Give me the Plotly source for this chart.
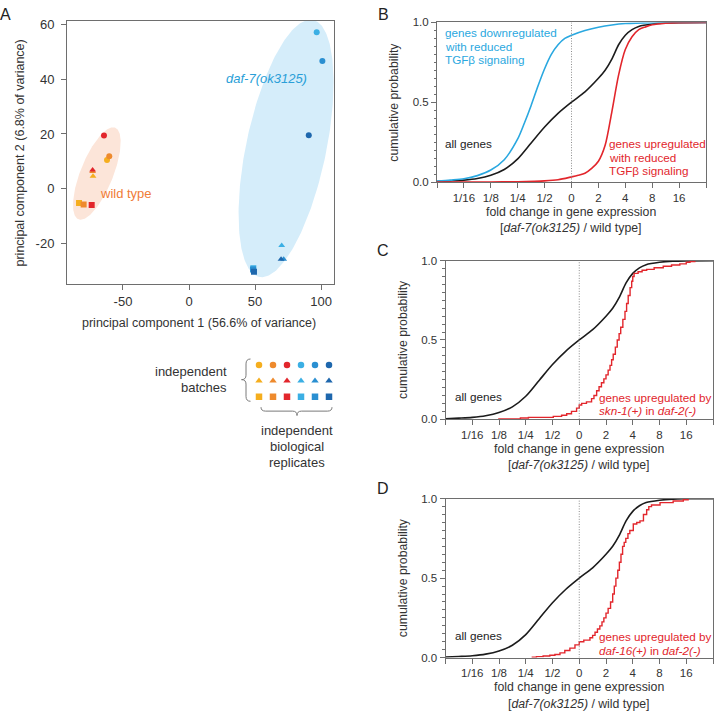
import numpy as np
import plotly.graph_objects as go

W, H = 715, 718
FONT = "Liberation Sans, Arial, Helvetica, sans-serif"
AX = "#6e6e6e"
TXT = "#333333"
BLUE = "#2aa8e0"
RED = "#e2262c"
BLACK = "#1c1c1c"
ORANGE_TXT = "#f07c38"
DAF_TXT = "#2a9fd8"

# ---------------- Panel A data (PCA) ----------------
rep_colors = ["#f5ae1e", "#ee8a2d", "#e2262c", "#3bafe4", "#2a8fd1", "#1e67ad"]
batch_symbols = ["circle", "triangle-up", "square"]

wt_pc1 = [-62.1, -60.4, -64.4, -72.7, -73.0, -73.0, -83.3, -79.8, -73.7]
wt_pc2 = [10.5, 11.8, 19.4, 4.5, 6.2, 6.8, -5.3, -5.9, -6.0]
wt_rep = [0, 1, 2, 0, 1, 2, 0, 1, 2]
wt_batch = [0, 0, 0, 1, 1, 1, 2, 2, 2]

mut_pc1 = [96.7, 101.0, 90.7, 70.2, 71.7, 69.7, 48.7, 48.5, 49.2]
mut_pc2 = [57.3, 46.7, 19.5, -20.9, -25.9, -25.9, -29.2, -29.7, -30.5]
mut_rep = [3, 4, 5, 3, 4, 5, 3, 4, 5]
mut_batch = [0, 0, 0, 1, 1, 1, 2, 2, 2]

# ellipse: center, major half-axis vector, minor half-axis vector (data units)
wt_ell_center = [-69.8, 5.5]
wt_ell_major = [13.9, 16.8]
wt_ell_minor = [11.5, -2.2]
mut_ell_center = [73.5, 14.7]
mut_ell_major = [20.3, 47.1]
mut_ell_minor = [29.7, -2.9]

pc1_ticks = [-50, 0, 50, 100]
pc2_ticks = [-20, 0, 20, 40, 60]

# ---------------- Panels B-D data (cumulative distributions) ----------------
fc_tickvals = [-5, -4, -3, -2, -1, 0, 1, 2, 3, 4, 5]
fc_ticktext = ["", "1/16", "1/8", "1/4", "1/2", "0", "2", "4", "8", "16", ""]

all_x = [-5, -4.5, -4, -3.5, -3, -2.5, -2, -1.5, -1, -0.5, 0, 0.5, 1, 1.25, 1.5, 1.75, 2, 2.25, 2.5, 3, 3.5, 4, 5]
all_y = [0.003, 0.007, 0.012, 0.022, 0.042, 0.078, 0.145, 0.245, 0.345, 0.43, 0.50, 0.565, 0.65, 0.70, 0.77, 0.86, 0.92, 0.955, 0.975, 0.99, 0.997, 0.999, 1.0]

down_x = [-5, -4.5, -4, -3.5, -3, -2.5, -2, -1.75, -1.5, -1.25, -1, -0.75, -0.5, -0.25, 0, 0.5, 1, 1.5, 2, 3, 4, 5]
down_y = [0.006, 0.012, 0.02, 0.04, 0.075, 0.14, 0.27, 0.37, 0.48, 0.60, 0.71, 0.80, 0.86, 0.90, 0.92, 0.95, 0.97, 0.984, 0.993, 0.999, 1.0, 1.0]

up_x = [-5, -3, -2, -1, -0.5, 0, 0.25, 0.5, 0.75, 1.0, 1.25, 1.5, 1.75, 2.0, 2.25, 2.5, 2.75, 3.0, 3.5, 4, 5]
up_y = [0.0, 0.0, 0.002, 0.007, 0.014, 0.032, 0.042, 0.055, 0.085, 0.13, 0.23, 0.44, 0.67, 0.83, 0.91, 0.955, 0.972, 0.985, 0.995, 0.999, 1.0]

skn_x = [-3.03, -2.2, -1.9, -0.97, -0.66, -0.47, -0.29, -0.1, 0.0, 0.09, 0.27, 0.46, 0.55, 0.65, 0.74, 0.83, 0.92,
         1.0, 1.08, 1.15, 1.21, 1.27, 1.35, 1.42, 1.49, 1.55, 1.63, 1.71, 1.77, 1.83, 1.9, 1.96, 2.0, 2.05, 2.2,
         2.35, 2.52, 2.8, 3.14, 3.45, 3.76, 4.0, 4.14, 4.32]
skn_y = [0.002, 0.008, 0.012, 0.018, 0.025, 0.035, 0.05, 0.07, 0.09, 0.10, 0.11, 0.13, 0.15, 0.18, 0.205, 0.23, 0.255,
         0.28, 0.31, 0.34, 0.375, 0.41, 0.455, 0.50, 0.54, 0.58, 0.63, 0.68, 0.73, 0.78, 0.83, 0.87, 0.90, 0.92, 0.93,
         0.94, 0.945, 0.955, 0.965, 0.973, 0.98, 0.99, 0.995, 1.0]

d16_x = [-1.78, -1.6, -1.35, -1.1, -0.91, -0.72, -0.54, -0.35, -0.16, 0.0, 0.17, 0.4, 0.5, 0.59, 0.68, 0.77, 0.85,
         0.92, 1.0, 1.08, 1.17, 1.25, 1.31, 1.37, 1.44, 1.5, 1.56, 1.62, 1.68, 1.74, 1.82, 1.89, 2.02, 2.15, 2.27,
         2.4, 2.52, 2.6, 2.7, 3.02, 3.51, 3.89, 4.07]
d16_y = [0.002, 0.006, 0.01, 0.015, 0.02, 0.03, 0.045, 0.06, 0.08, 0.10, 0.11, 0.125, 0.14, 0.16, 0.18, 0.20, 0.225,
         0.25, 0.28, 0.31, 0.35, 0.40, 0.45, 0.50, 0.55, 0.60, 0.65, 0.70, 0.725, 0.75, 0.78, 0.80, 0.84, 0.85, 0.86,
         0.90, 0.93, 0.95, 0.96, 0.975, 0.985, 0.993, 1.0]

prob_tickvals = [0, 0.25, 0.5, 0.75, 1.0]
prob_ticktext = ["0.0", "", "0.5", "", "1.0"]
prob_minor = [i * 0.05 for i in range(21)]

# ---------------- layout geometry (pixels) ----------------
def dx(a, b):
    return [a / W, b / W]

def dy(top, bottom):
    return [1 - bottom / H, 1 - top / H]

fig = go.Figure()

# ellipses
t = np.linspace(0, 2 * np.pi, 241)
for c, M, m, col in [(wt_ell_center, wt_ell_major, wt_ell_minor, "#fce5d9"),
                     (mut_ell_center, mut_ell_major, mut_ell_minor, "#d5edfa")]:
    ex = c[0] + np.cos(t) * M[0] + np.sin(t) * m[0]
    ey = c[1] + np.cos(t) * M[1] + np.sin(t) * m[1]
    fig.add_trace(go.Scatter(x=ex, y=ey, mode="lines", fill="toself", fillcolor=col,
                             line=dict(width=0), hoverinfo="skip", xaxis="x", yaxis="y"))

for px_, py_, rp, bt in [(wt_pc1, wt_pc2, wt_rep, wt_batch), (mut_pc1, mut_pc2, mut_rep, mut_batch)]:
    fig.add_trace(go.Scatter(
        x=px_, y=py_, mode="markers", xaxis="x", yaxis="y",
        marker=dict(color=[rep_colors[r] for r in rp], symbol=[batch_symbols[b] for b in bt],
                    size=6, line=dict(width=0))))

# legend grid (pixel overlay axis)
leg_x0, leg_dx, leg_y0, leg_dy = 259, 14, 365, 16.2
gx, gy, gc, gs = [], [], [], []
for b in range(3):
    for r in range(6):
        gx.append(leg_x0 + leg_dx * r)
        gy.append(leg_y0 + leg_dy * b)
        gc.append(rep_colors[r])
        gs.append(batch_symbols[b])
fig.add_trace(go.Scatter(x=gx, y=gy, mode="markers", xaxis="x5", yaxis="y5",
                         marker=dict(color=gc, symbol=gs, size=6.5, line=dict(width=0))))

# CDF panels
panels = [("x2", "y2"), ("x3", "y3"), ("x4", "y4")]
for xa, ya in panels:
    fig.add_shape(type="line", x0=0, x1=0, y0=0, y1=1, xref=xa, yref=ya,
                  line=dict(color="#8c8c8c", width=1, dash="1px,1.6px"))
    fig.add_trace(go.Scatter(x=all_x, y=all_y, mode="lines", xaxis=xa, yaxis=ya,
                             line=dict(color=BLACK, width=1.6, shape="spline", smoothing=0.8)))

fig.add_trace(go.Scatter(x=down_x, y=down_y, mode="lines", xaxis="x2", yaxis="y2",
                         line=dict(color=BLUE, width=1.6, shape="spline", smoothing=0.8)))
fig.add_trace(go.Scatter(x=up_x, y=up_y, mode="lines", xaxis="x2", yaxis="y2",
                         line=dict(color=RED, width=1.6, shape="spline", smoothing=0.8)))
fig.add_trace(go.Scatter(x=skn_x, y=skn_y, mode="lines", xaxis="x3", yaxis="y3",
                         line=dict(color=RED, width=1.4, shape="hv")))
fig.add_trace(go.Scatter(x=d16_x, y=d16_y, mode="lines", xaxis="x4", yaxis="y4",
                         line=dict(color=RED, width=1.4, shape="hv")))

base = dict(showline=True, linecolor=AX, linewidth=1, mirror=True, ticks="outside", ticklen=5,
            tickwidth=1, tickcolor=AX, showgrid=False, zeroline=False, fixedrange=True)

layout = dict(
    width=W, height=H, margin=dict(l=0, r=0, t=0, b=0), autosize=False,
    paper_bgcolor="white", plot_bgcolor="rgba(0,0,0,0)", showlegend=False,
    font=dict(family=FONT, color=TXT),
    xaxis=dict(base, domain=dx(67, 334), range=[-92.4, 109.8], anchor="y",
               tickmode="array", tickvals=pc1_ticks, ticktext=[str(v) for v in pc1_ticks],
               tickfont=dict(family=FONT, size=13, color=TXT)),
    yaxis=dict(base, domain=dy(15, 283), range=[-35.1, 61.5], anchor="x",
               tickmode="array", tickvals=pc2_ticks, ticktext=[str(v) for v in pc2_ticks],
               tickfont=dict(family=FONT, size=13, color=TXT), ticklabelstandoff=4),
    xaxis5=dict(domain=[0, 1], range=[0, W], visible=False, anchor="y5", fixedrange=True),
    yaxis5=dict(domain=[0, 1], range=[H, 0], visible=False, anchor="x5", fixedrange=True),
)

cdf_geo = {2: (437, 706, 16.7, 179), 3: (445.5, 713, 259, 420.3), 4: (445.5, 713, 501, 662.7)}
for k, (l, r, tp, bt) in cdf_geo.items():
    layout[f"xaxis{k}"] = dict(base, domain=dx(l, r), range=[-5, 5], anchor=f"y{k}",
                               tickmode="array", tickvals=fc_tickvals, ticktext=fc_ticktext,
                               tickfont=dict(family=FONT, size=11.5, color=TXT))
    layout[f"yaxis{k}"] = dict(base, domain=dy(tp, bt), range=[0, 1], anchor=f"x{k}",
                               tickmode="array", tickvals=prob_tickvals, ticktext=prob_ticktext,
                               tickfont=dict(family=FONT, size=11.5, color=TXT),
                               minor=dict(ticks="outside", ticklen=2.5, tickcolor=AX, tickwidth=1,
                                          tickmode="array", tickvals=prob_minor))

fig.update_layout(**layout)

# ---------------- text (pixel positions) ----------------
def note(text, x, y, size=12, color=TXT, xanchor="center", angle=0):
    fig.add_annotation(text=text, x=x, y=y, xref="x5", yref="y5", showarrow=False,
                       xanchor=xanchor, yanchor="middle", textangle=angle,
                       font=dict(family=FONT, size=size, color=color))

for lab, x, y in [("A", 5.5, 9), ("B", 383, 9), ("C", 383, 249), ("D", 383, 491)]:
    note(lab, x, y, size=16, color="#222222")

note("principal component 1 (56.6% of variance)", 199, 322.7, size=12.5)
note("principal component 2 (6.8% of variance)", 20, 150, size=12.5, angle=-90)
note("wild type", 126, 190.7, size=13, color=ORANGE_TXT)
note("<i>daf-7(ok3125)</i>", 266, 73.3, size=13, color=DAF_TXT)

note("independent", 229, 372, size=13, xanchor="right")
note("batches", 229, 388, size=13, xanchor="right")
for txt, y in [("independent", 431.7), ("biological", 448), ("replicates", 464)]:
    note(txt, 296.7, y, size=13)

# braces
fig.add_shape(type="path", xref="x5", yref="y5",
              path="M 250.5,359 Q 246,359 246,364 L 246,375.5 Q 246,380 241.5,380 "
                   "Q 246,380 246,384.5 L 246,397 Q 246,402 250.5,402",
              line=dict(color="#7a7a7a", width=1))
fig.add_shape(type="path", xref="x5", yref="y5",
              path="M 261,408 Q 261,412 265.5,412 L 292.5,412 Q 297,412 297,416.5 "
                   "Q 297,412 301.5,412 L 327.5,412 Q 332,412 332,408",
              line=dict(color="#7a7a7a", width=1))

FS = 11.7
# panel B
for txt, y in [("genes downregulated", 26.7), ("with reduced", 40.7), ("TGFβ signaling", 54.3)]:
    note(txt, 443.3, y, size=FS, color=BLUE, xanchor="left")
note("all genes", 443.3, 140, size=FS, color=BLACK, xanchor="left")
for txt, y in [("genes upregulated", 140), ("with reduced", 154), ("TGFβ signaling", 167.7)]:
    note(txt, 606.7, y, size=FS, color=RED, xanchor="left")
# panel C
note("all genes", 452.7, 397.3, size=FS, color=BLACK, xanchor="left")
note("genes upregulated by", 597.3, 397.7, size=FS, color=RED, xanchor="left")
note("<i>skn-1(+)</i> in <i>daf-2(-)</i>", 597.3, 411.7, size=FS, color=RED, xanchor="left")
# panel D
note("all genes", 452.7, 640.7, size=FS, color=BLACK, xanchor="left")
note("genes upregulated by", 597.3, 641.7, size=FS, color=RED, xanchor="left")
note("<i>daf-16(+)</i> in <i>daf-2(-)</i>", 597.3, 655.7, size=FS, color=RED, xanchor="left")

# axis titles B-D
for yc, xc, cx, xt1, xt2 in [(97.9, 394.5, 571.3, 209.3, 226), (339.7, 403, 579, 450.6, 467.3),
                             (582, 403, 579, 693, 709.7)]:
    note("cumulative probability", xc, yc, size=12.3, angle=-90)
    note("fold change in gene expression", cx, xt1, size=12.3)
    note("[<i>daf-7(ok3125)</i> / wild type]", cx, xt2, size=12.3)

fig.write_html(
    "out.html",
    config={"displayModeBar": False},
    post_script="document.body.style.margin='0';document.body.style.padding='0';"
                "document.documentElement.style.overflow='hidden';",
)
